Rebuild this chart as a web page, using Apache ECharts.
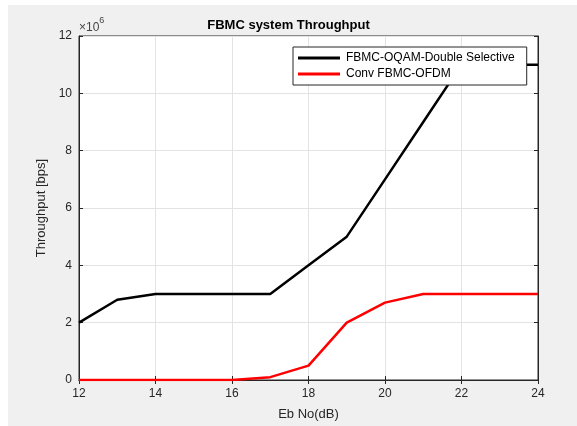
<!DOCTYPE html>
<html>
<head>
<meta charset="utf-8">
<script src="https://cdn.jsdelivr.net/npm/echarts@6/dist/echarts.min.js"></script>
<style>
  html, body { margin: 0; padding: 0; background: #fff; }
  #charts { width: 577px; height: 426px; }
</style>
</head>
<body>
<div id="charts"></div>
<script>
// Eb/No (dB)
var ebNo = [12, 13, 14, 15, 16, 17, 18, 19, 20, 21, 22, 23, 24];
// throughput in bps
var fbmcOqam = [2.0e6, 2.8e6, 3.0e6, 3.0e6, 3.0e6, 3.0e6, 4.0e6, 5.0e6, 7.0e6, 9.0e6, 11.0e6, 11.0e6, 11.0e6];
var convOfdm = [0, 0, 0, 0, 0, 0.1e6, 0.5e6, 2.0e6, 2.7e6, 3.0e6, 3.0e6, 3.0e6, 3.0e6];
var seriesNames = ['FBMC-OQAM-Double Selective', 'Conv FBMC-OFDM'];

var pairs = function(xs, ys) {
    var out = [];
    for (var i = 0; i < xs.length; i++) {
        out.push([xs[i], ys[i]]);
    }
    return out;
};

var font = 'Liberation Sans, Arial, sans-serif';
var txt = '#262626';

var myChart = echarts.init(document.getElementById('charts'));
myChart.setOption({
    animation: false,
    backgroundColor: '#fff',
    graphic: [
        {
            type: 'rect', z: -10, silent: true,
            shape: { x: 8, y: 5, width: 569, height: 421 },
            style: { fill: '#f0f0f0' }
        },
        {
            type: 'text', left: 79, top: 16, z: 10,
            style: {
                text: '{a|×10}{b|6}',
                rich: {
                    a: { fontSize: 12, fontFamily: font, fill: '#444', verticalAlign: 'bottom' },
                    b: { fontSize: 9, fontFamily: font, fill: '#444', verticalAlign: 'top', padding: [0, 0, 9, 0] }
                }
            }
        }
    ],
    title: {
        text: 'FBMC system Throughput',
        left: 'center',
        top: 14,
        textStyle: { fontSize: 13, fontWeight: 'bold', color: '#000', fontFamily: font }
    },
    grid: {
        left: 79,
        right: 39,
        top: 36,
        bottom: 43,
        show: true,
        backgroundColor: '#fff',
        borderColor: '#262626',
        borderWidth: 1
    },
    legend: {
        orient: 'vertical',
        left: 293,
        top: 47,
        padding: [5, 12, 5, 5],
        itemGap: 4,
        itemWidth: 42,
        itemHeight: 3,
        backgroundColor: '#fff',
        borderColor: '#262626',
        borderWidth: 1,
        borderRadius: 0,
        selectedMode: false,
        icon: 'rect',
        textStyle: { fontSize: 12, color: '#000', fontFamily: font, padding: [0, 0, 0, 1] },
        data: seriesNames
    },
    xAxis: [
        {
            type: 'value',
            min: 12, max: 24, interval: 2,
            name: 'Eb No(dB)',
            nameLocation: 'middle',
            nameGap: 28,
            nameTextStyle: { fontSize: 13, color: txt, fontFamily: font },
            axisLine: { show: true, lineStyle: { color: '#262626' } },
            axisTick: { show: true, inside: true, length: 4, lineStyle: { color: '#262626' } },
            axisLabel: { fontSize: 12, color: txt, fontFamily: font, margin: 8 },
            splitLine: { show: true, lineStyle: { color: '#e3e3e3' } }
        },
        {
            type: 'value', position: 'top',
            min: 12, max: 24, interval: 2,
            axisLine: { show: true, lineStyle: { color: '#262626' } },
            axisTick: { show: true, inside: true, length: 4, lineStyle: { color: '#262626' } },
            axisLabel: { show: false },
            splitLine: { show: false }
        }
    ],
    yAxis: [
        {
            type: 'value',
            min: 0, max: 12e6, interval: 2e6,
            name: 'Throughput [bps]',
            nameLocation: 'middle',
            nameGap: 27,
            nameTextStyle: { fontSize: 13, color: txt, fontFamily: font },
            axisLine: { show: true, lineStyle: { color: '#262626' } },
            axisTick: { show: true, inside: true, length: 4, lineStyle: { color: '#262626' } },
            axisLabel: {
                fontSize: 12, color: txt, fontFamily: font, margin: 7,
                formatter: function(v) { return String(v / 1e6); }
            },
            splitLine: { show: true, lineStyle: { color: '#e3e3e3' } }
        },
        {
            type: 'value', position: 'right',
            min: 0, max: 12e6, interval: 2e6,
            axisLine: { show: true, lineStyle: { color: '#262626' } },
            axisTick: { show: true, inside: true, length: 4, lineStyle: { color: '#262626' } },
            axisLabel: { show: false },
            splitLine: { show: false }
        }
    ],
    series: [
        {
            name: seriesNames[0],
            type: 'line',
            data: pairs(ebNo, fbmcOqam),
            symbol: 'none',
            color: '#000',
            lineStyle: { color: '#000', width: 2.5 },
            z: 3
        },
        {
            name: seriesNames[1],
            type: 'line',
            data: pairs(ebNo, convOfdm),
            symbol: 'none',
            color: '#ff0000',
            lineStyle: { color: '#ff0000', width: 2.5 },
            z: 4
        }
    ]
});
</script>
</body>
</html>
